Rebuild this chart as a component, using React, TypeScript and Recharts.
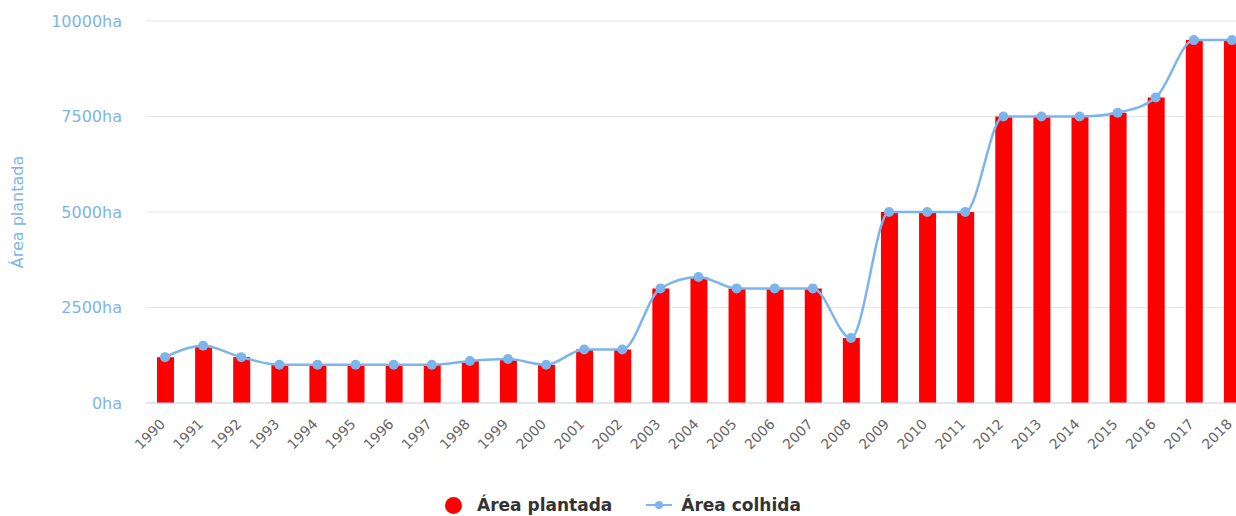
import React from 'react';
import { ComposedChart, Bar, Line, XAxis, YAxis, CartesianGrid, Legend } from 'recharts';

const years = [
  '1990', '1991', '1992', '1993', '1994', '1995', '1996', '1997', '1998', '1999',
  '2000', '2001', '2002', '2003', '2004', '2005', '2006', '2007', '2008', '2009',
  '2010', '2011', '2012', '2013', '2014', '2015', '2016', '2017', '2018',
];

const areaPlantada = [
  1200, 1500, 1200, 1000, 1000, 1000, 1000, 1000, 1100, 1150,
  1000, 1400, 1400, 3000, 3300, 3000, 3000, 3000, 1700, 5000,
  5000, 5000, 7500, 7500, 7500, 7600, 8000, 9500, 9500,
];

const areaColhida = [
  1200, 1500, 1200, 1000, 1000, 1000, 1000, 1000, 1100, 1150,
  1000, 1400, 1400, 3000, 3300, 3000, 3000, 3000, 1700, 5000,
  5000, 5000, 7500, 7500, 7500, 7600, 8000, 9500, 9500,
];

const yTicks = [0, 2500, 5000, 7500, 10000];

const data = years.map((y, i) => ({ year: y, plantada: areaPlantada[i], colhida: areaColhida[i] }));

const FONT = '"DejaVu Sans", Verdana, sans-serif';
const BLUE = '#7cb5ec';

const XTick = (props: any) => {
  const { x, y, payload } = props;
  const tx = x + 1;
  const ty = y + 14;
  return (
    <text
      x={tx}
      y={ty}
      textAnchor="end"
      fill="#666"
      fontSize={14}
      fontFamily={FONT}
      transform={`rotate(-45, ${tx}, ${ty})`}
    >
      {payload.value}
    </text>
  );
};

// y axis title, centred on the plot area
const YTitle = () => (
  <text
    x={23}
    y={212}
    textAnchor="middle"
    fill={BLUE}
    fontSize={16}
    fontFamily={FONT}
    transform="rotate(-90, 23, 212)"
  >
    Área plantada
  </text>
);

const LegendContent = () => (
  <div
    style={{
      display: 'flex',
      alignItems: 'center',
      fontFamily: FONT,
      fontWeight: 'bold',
      fontSize: 17,
      color: '#333',
      paddingLeft: 445,
      paddingTop: 19,
    }}
  >
    <svg width={17} height={17} style={{ marginRight: 15 }}>
      <circle cx={8.5} cy={8.5} r={8.5} fill="#ff0000" />
    </svg>
    <span style={{ marginRight: 34 }}>Área plantada</span>
    <svg width={26} height={12} style={{ marginRight: 9 }}>
      <line x1={0} y1={6} x2={26} y2={6} stroke={BLUE} strokeWidth={2} />
      <circle cx={13} cy={6} r={4} fill={BLUE} />
    </svg>
    <span>Área colhida</span>
  </div>
);

const App = () => {
  return (
    <div style={{ position: 'absolute', left: 0, top: 0, width: 1236, height: 516, overflow: 'hidden', background: '#fff' }}>
      <ComposedChart
        width={1260}
        height={516}
        data={data}
        margin={{ top: 21, right: 9, bottom: 0, left: 0 }}
      >
        <CartesianGrid vertical={false} stroke="#e6e6e6" />
        <XAxis
          dataKey="year"
          interval={0}
          height={73}
          tick={<XTick />}
          tickLine={false}
          axisLine={{ stroke: '#ccd6eb' }}
        />
        <YAxis
          width={146}
          domain={[0, 10000]}
          ticks={yTicks}
          tickFormatter={(v: number) => `${v}ha`}
          tickLine={false}
          axisLine={false}
          tickSize={0}
          tickMargin={24}
          tick={{ fill: BLUE, fontSize: 16, fontFamily: FONT }}
          label={<YTitle />}
        />
        <Legend verticalAlign="bottom" align="left" height={40} content={<LegendContent />} />
        <Bar dataKey="plantada" name="Área plantada" fill="#ff0000" barSize={17} isAnimationActive={false} />
        <Line
          type="monotone"
          dataKey="colhida"
          name="Área colhida"
          stroke={BLUE}
          strokeWidth={2.5}
          dot={{ r: 5, fill: BLUE, stroke: BLUE, strokeWidth: 0 }}
          activeDot={false}
          isAnimationActive={false}
        />
      </ComposedChart>
    </div>
  );
};

export default App;
